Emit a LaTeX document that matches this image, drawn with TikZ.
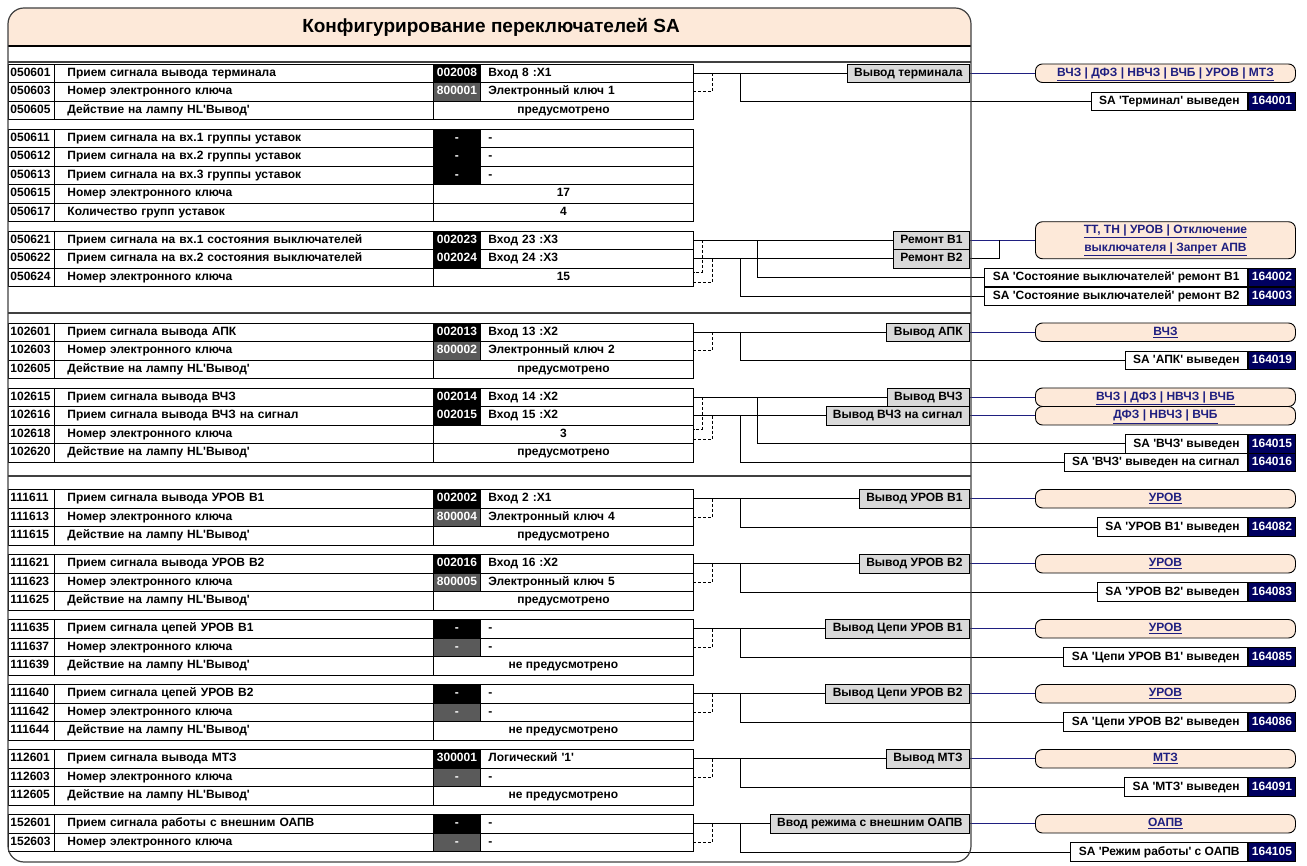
\documentclass[tikz,border=0pt]{standalone}
\usepackage{fontspec}
\setmainfont{Liberation Sans}[Ligatures=TeXOff]
\usepackage{xcolor}
\usetikzlibrary{positioning}
\definecolor{peach}{RGB}{253,233,217}
\definecolor{keygray}{RGB}{90,90,90}
\definecolor{boxgray}{RGB}{217,217,217}
\definecolor{linkblue}{RGB}{31,31,128}
\definecolor{numblue}{RGB}{0,0,96}
\definecolor{framegray}{RGB}{64,64,64}

% one table row: y, code, text, colour, signal, value
\newcommand\sigrow[6]{%
  \node[codecell] (k#2) at (8,#1) {#2};
  \node[desccell] (d#2) at (54,#1) {#3};
  \node[sigcell=#4] (s#2) at (433,#1) {#5};
  \node[valcell] (v#2) at (480,#1) {#6};}
% one table row with a setting: y, code, text, value
\newcommand\fixrow[4]{%
  \node[codecell] (k#2) at (8,#1) {#2};
  \node[desccell] (d#2) at (54,#1) {#3};
  \node[widecell] (v#2) at (433,#1) {#4};}

\begin{document}
\begin{tikzpicture}[x=1pt, y=-1pt,
    font=\fontsize{12}{14}\selectfont\bfseries,
    base/.style = {draw, line width=0.9pt, inner ysep=0pt, minimum height=18.5pt},
    cell/.style = {base, anchor=west, text height=8.6pt, text depth=2.2pt},
    codecell/.style = {cell, text width=42pt, inner xsep=2pt, align=left},
    desccell/.style = {cell, text width=353pt, inner xsep=13pt, align=left},
    sigcell/.style = {cell, fill=#1, text=white, minimum width=47pt, inner xsep=0pt},
    valcell/.style = {cell, text width=197pt, inner xsep=8pt, align=left},
    widecell/.style = {cell, minimum width=260pt, inner xsep=0pt},
    swbox/.style = {cell, anchor=east, fill=boxgray, inner xsep=7pt},
    fnbox/.style = {cell, fill=peach, text=linkblue, rounded corners=7pt, minimum width=260pt, inner xsep=0pt},
    sabox/.style = {cell, anchor=east, fill=white, inner xsep=8pt},
    numbox/.style = {cell, fill=numblue, text=white, minimum width=47pt, inner xsep=0pt},
    wire/.style = {line width=0.9pt},
    tap/.style = {wire, dash pattern=on 3pt off 2pt},
    link/.style = {draw=linkblue, line width=0.9pt},
    frame/.style = {draw=framegray, line width=1.2pt}]
\useasboundingbox (0,0) rectangle (1307,866);

% title bar
\fill[peach] (8,46) [rounded corners=16pt] -- (8,8) -- (971,8) [sharp corners] -- (971,46) -- cycle;
\node[font=\fontsize{19}{22}\selectfont\bfseries] (title) at (491,27) {Конфигурирование переключателей SA};

% bus columns
\coordinate (gx) at (970,0);
\coordinate (fx) at (1035,0);
\coordinate (sx) at (1248,0);
\coordinate (db) at (702,0);
\coordinate (da) at (712,0);
\coordinate (ba) at (740,0);
\coordinate (bb) at (757,0);
\coordinate (jx) at (999,0);

% table
\sigrow{73.25}{050601}{Прием сигнала вывода терминала}{black}{002008}{Вход 8 :X1}
\sigrow{91.75}{050603}{Номер электронного ключа}{keygray}{800001}{Электронный ключ 1}
\fixrow{110.25}{050605}{Действие на лампу HL'Вывод'}{предусмотрено}
\sigrow{138.25}{050611}{Прием сигнала на вх.1 группы уставок}{black}{-}{-}
\sigrow{156.75}{050612}{Прием сигнала на вх.2 группы уставок}{black}{-}{-}
\sigrow{175.25}{050613}{Прием сигнала на вх.3 группы уставок}{black}{-}{-}
\fixrow{193.75}{050615}{Номер электронного ключа}{17}
\fixrow{212.25}{050617}{Количество групп уставок}{4}
\sigrow{240.25}{050621}{Прием сигнала на вх.1 состояния выключателей}{black}{002023}{Вход 23 :X3}
\sigrow{258.75}{050622}{Прием сигнала на вх.2 состояния выключателей}{black}{002024}{Вход 24 :X3}
\fixrow{277.25}{050624}{Номер электронного ключа}{15}
\sigrow{332.25}{102601}{Прием сигнала вывода АПК}{black}{002013}{Вход 13 :X2}
\sigrow{350.75}{102603}{Номер электронного ключа}{keygray}{800002}{Электронный ключ 2}
\fixrow{369.25}{102605}{Действие на лампу HL'Вывод'}{предусмотрено}
\sigrow{397.25}{102615}{Прием сигнала вывода ВЧЗ}{black}{002014}{Вход 14 :X2}
\sigrow{415.75}{102616}{Прием сигнала вывода ВЧЗ на сигнал}{black}{002015}{Вход 15 :X2}
\fixrow{434.25}{102618}{Номер электронного ключа}{3}
\fixrow{452.75}{102620}{Действие на лампу HL'Вывод'}{предусмотрено}
\sigrow{498.75}{111611}{Прием сигнала вывода УРОВ В1}{black}{002002}{Вход 2 :X1}
\sigrow{517.25}{111613}{Номер электронного ключа}{keygray}{800004}{Электронный ключ 4}
\fixrow{535.75}{111615}{Действие на лампу HL'Вывод'}{предусмотрено}
\sigrow{563.75}{111621}{Прием сигнала вывода УРОВ В2}{black}{002016}{Вход 16 :X2}
\sigrow{582.25}{111623}{Номер электронного ключа}{keygray}{800005}{Электронный ключ 5}
\fixrow{600.75}{111625}{Действие на лампу HL'Вывод'}{предусмотрено}
\sigrow{628.75}{111635}{Прием сигнала цепей УРОВ В1}{black}{-}{-}
\sigrow{647.25}{111637}{Номер электронного ключа}{keygray}{-}{-}
\fixrow{665.75}{111639}{Действие на лампу HL'Вывод'}{не предусмотрено}
\sigrow{693.75}{111640}{Прием сигнала цепей УРОВ В2}{black}{-}{-}
\sigrow{712.25}{111642}{Номер электронного ключа}{keygray}{-}{-}
\fixrow{730.75}{111644}{Действие на лампу HL'Вывод'}{не предусмотрено}
\sigrow{758.75}{112601}{Прием сигнала вывода МТЗ}{black}{300001}{Логический '1'}
\sigrow{777.25}{112603}{Номер электронного ключа}{keygray}{-}{-}
\fixrow{795.75}{112605}{Действие на лампу HL'Вывод'}{не предусмотрено}
\sigrow{823.75}{152601}{Прием сигнала работы с внешним ОАПВ}{black}{-}{-}
\sigrow{842.25}{152603}{Номер электронного ключа}{keygray}{-}{-}

% switches with one input
\foreach \ra/\rb/\n/\swtxt/\fntxt/\satxt/\code in {
    050601/050603/term/{Вывод терминала}/{ВЧЗ | ДФЗ | НВЧЗ | ВЧБ | УРОВ | МТЗ}/{SA 'Терминал' выведен}/164001,
    102601/102603/apk/{Вывод АПК}/{ВЧЗ}/{SA 'АПК' выведен}/164019,
    111611/111613/urb1/{Вывод УРОВ В1}/{УРОВ}/{SA 'УРОВ В1' выведен}/164082,
    111621/111623/urb2/{Вывод УРОВ В2}/{УРОВ}/{SA 'УРОВ В2' выведен}/164083,
    111635/111637/cub1/{Вывод Цепи УРОВ В1}/{УРОВ}/{SA 'Цепи УРОВ В1' выведен}/164085,
    111640/111642/cub2/{Вывод Цепи УРОВ В2}/{УРОВ}/{SA 'Цепи УРОВ В2' выведен}/164086,
    112601/112603/mtz/{Вывод МТЗ}/{МТЗ}/{SA 'МТЗ' выведен}/164091,
    152601/152603/oapv/{Ввод режима с внешним ОАПВ}/{ОАПВ}/{SA 'Режим работы' с ОАПВ}/164105}
{
    \node[swbox] (g\n) at (gx |- v\ra.east) {\swtxt};
    \node[fnbox] (f\n) at (fx |- v\ra.east) {\underline{\fntxt}};
    \node[sabox] (sa\n) at (sx |- v\rb.south) {\satxt};
    \node[numbox, right=0pt of sa\n] (n\n) {\code};
    \draw[wire] (v\ra.east) -- (g\n.west);
    \draw[tap] (da |- v\ra.east) |- (v\rb.east);
    \draw[wire] (ba |- v\ra.east) |- (sa\n.west);
    \draw[link] (g\n.east) -- (f\n.west);
}

% breakers under repair
\node[swbox] (grem1) at (gx |- v050621.east) {Ремонт В1};
\node[swbox] (grem2) at (gx |- v050622.east) {Ремонт В2};
\node[base, anchor=west, fill=peach, text=linkblue, rounded corners=7pt, minimum width=260pt,
      minimum height=37pt, align=center, font=\fontsize{12}{18}\selectfont\bfseries]
      (frem) at (fx |- v050621.east) {\underline{ТТ, ТН | УРОВ | Отключение}\\\underline{выключателя | Запрет АПВ}};
\node[sabox] (sarem1) at (sx |- v050624.east) {SA 'Состояние выключателей' ремонт В1};
\node[numbox, right=0pt of sarem1] (nrem1) {164002};
\node[sabox, anchor=north east] (sarem2) at (sarem1.south east) {SA 'Состояние выключателей' ремонт В2};
\node[numbox, right=0pt of sarem2] (nrem2) {164003};
\draw[wire] (v050621.east) -- (grem1.west);
\draw[wire] (v050622.east) -- (grem2.west);
\draw[tap] (db |- v050621.east) |- ([yshift=5pt]v050624.east);
\draw[tap] (da |- v050622.east) |- ([yshift=-5pt]v050624.east);
\draw[wire] (bb |- v050621.east) |- (sarem1.west);
\draw[wire] (ba |- v050622.east) |- (sarem2.west);
\draw[link] (grem1.east) -- (frem.west);
\draw[wire] (grem2.east) -| (jx |- grem1.east);

% HF protection
\node[swbox] (gvch) at (gx |- v102615.east) {Вывод ВЧЗ};
\node[swbox] (gvchs) at (gx |- v102616.east) {Вывод ВЧЗ на сигнал};
\node[fnbox] (fvch) at (fx |- v102615.east) {\underline{ВЧЗ | ДФЗ | НВЧЗ | ВЧБ}};
\node[fnbox] (fvchs) at (fx |- v102616.east) {\underline{ДФЗ | НВЧЗ | ВЧБ}};
\node[sabox] (savch) at (sx |- v102618.south) {SA 'ВЧЗ' выведен};
\node[numbox, right=0pt of savch] (nvch) {164015};
\node[sabox] (savchs) at (sx |- v102620.south) {SA 'ВЧЗ' выведен на сигнал};
\node[numbox, right=0pt of savchs] (nvchs) {164016};
\draw[wire] (v102615.east) -- (gvch.west);
\draw[wire] (v102616.east) -- (gvchs.west);
\draw[tap] (db |- v102615.east) |- ([yshift=5pt]v102618.east);
\draw[tap] (da |- v102616.east) |- ([yshift=-5pt]v102618.east);
\draw[wire] (bb |- v102615.east) |- (savch.west);
\draw[wire] (ba |- v102616.east) |- (savchs.west);
\draw[link] (gvch.east) -- (fvch.west);
\draw[link] (gvchs.east) -- (fvchs.west);

% frame
\draw[line width=1.8pt] (8,46) -- (971,46);
\draw[frame] (8,62) -- (971,62);
\draw[frame] (8,313) -- (971,313);
\draw[frame] (8,476) -- (971,476);
\draw[frame, rounded corners=16pt] (8,8) rectangle (971,862);
\end{tikzpicture}
\end{document}
